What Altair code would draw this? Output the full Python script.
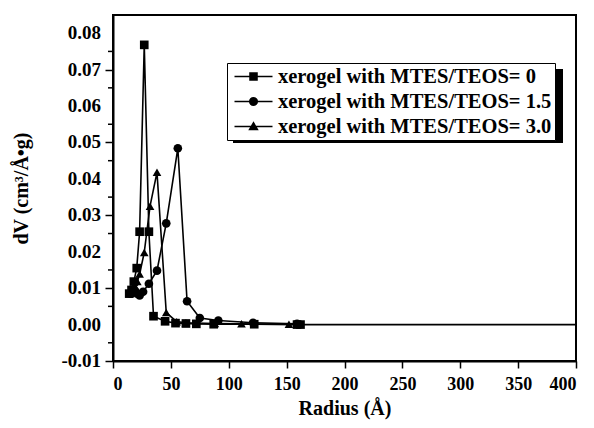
import altair as alt
import pandas as pd

labels = ["xerogel with MTES/TEOS= 0", "xerogel with MTES/TEOS= 1.5", "xerogel with MTES/TEOS= 3.0"]

s0_x = [14, 16, 18, 20.5, 23, 27, 31, 35, 45, 54, 63, 72, 87, 122, 159, 162]
s0_y = [0.0085, 0.0095, 0.0118, 0.0155, 0.0255, 0.0768, 0.0255, 0.0023, 0.0009, 0.0004, 0.0003, 0.0002, 0.0001, 0.0001, 0.0, 0.0]

s1_x = [15, 17, 19, 21, 23, 26, 31, 38, 46, 56, 64, 75, 91, 121, 159]
s1_y = [0.0085, 0.0088, 0.0092, 0.0085, 0.0080, 0.0090, 0.0112, 0.0148, 0.0278, 0.0484, 0.0064, 0.0018, 0.0011, 0.0005, 0.0002]

s2_x = [15, 17, 19, 21, 23, 27, 32, 38, 46, 55, 63, 88, 111, 152]
s2_y = [0.0085, 0.0090, 0.0105, 0.0118, 0.0139, 0.0198, 0.0325, 0.0418, 0.0033, 0.0008, 0.0005, 0.0003, 0.0002, 0.0001]

zero_x = [162, 400]
zero_y = [0.0, 0.0]

x_ticks = list(range(0, 401, 25))
y_major = [-0.01, 0.0, 0.01, 0.02, 0.03, 0.04, 0.05, 0.06, 0.07, 0.08]
y_labels = ["-0.01", "0.00", "0.01", "0.02", "0.03", "0.04", "0.05", "0.06", "0.07", "0.08"]
y_minor = [-0.005, 0.005, 0.015, 0.025, 0.035, 0.045, 0.055, 0.065, 0.075]

rows = []
for lab, xs, ys in zip(labels, [s0_x, s1_x, s2_x], [s0_y, s1_y, s2_y]):
    for xv, yv in zip(xs, ys):
        rows.append({"series": lab, "r": xv, "dv": yv})
df = pd.DataFrame(rows)
zdf = pd.DataFrame({"r": zero_x, "dv": zero_y})
mdf = pd.DataFrame({"dv": y_minor})
ldf = pd.DataFrame({"dv": y_major, "txt": y_labels})

FONT = "Liberation Serif"

xscale = alt.Scale(domain=[0, 400], nice=False)
yscale = alt.Scale(domain=[-0.01, 0.085], nice=False, zero=False)

xmajor = "datum.value % 50 == 0"

xaxis = alt.Axis(
    values=x_ticks,
    labelExpr=xmajor + " ? format(datum.value, 'd') : ''",
    tickSize={"condition": {"test": xmajor, "value": 7}, "value": 4},
    labelOverlap=False,
    labelPadding=7,
    title="Radius (Å)",
    titlePadding=5,
)
yaxis = alt.Axis(
    values=y_major,
    labels=False,
    tickSize=8,
    title="dV (cm³/Å•g)",
    titlePadding=73,
)

X = alt.X("r:Q", scale=xscale, axis=xaxis)
Y = alt.Y("dv:Q", scale=yscale, axis=yaxis)

lines = alt.Chart(df).mark_line(color="black", strokeWidth=1.6).encode(
    x=X, y=Y, detail="series:N", order="r:Q"
)

points = alt.Chart(df).mark_point(filled=True, color="black", opacity=1).encode(
    x="r:Q", y="dv:Q",
    shape=alt.Shape("series:N",
                    scale=alt.Scale(domain=labels, range=["square", "circle", "triangle-up"]),
                    legend=None),
    size=alt.value(75),
)

zero_line = alt.Chart(zdf).mark_line(color="black", strokeWidth=1.6).encode(x="r:Q", y="dv:Q")

minor_ticks = alt.Chart(mdf).mark_rule(color="black", strokeWidth=1.5, clip=False).encode(
    y="dv:Q", x=alt.value(0), x2=alt.value(-5)
)

y_text = alt.Chart(ldf).mark_text(
    align="right", baseline="middle", font=FONT, fontWeight="bold", fontSize=19,
    color="black", clip=False, dx=-12
).encode(y="dv:Q", x=alt.value(0), text="txt:N")

bar = "M-2,-0.085H2V0.085H-2Z"
leg_paths = [
    bar + "M-0.45,-0.45H0.45V0.45H-0.45Z",
    bar + "M0.48,0A0.48,0.48,0,1,1,-0.48,0A0.48,0.48,0,1,1,0.48,0Z",
    bar + "M0,-0.55L0.55,0.4H-0.55Z",
]

legend_layer = alt.Chart(df).mark_point(
    filled=True, color="black", opacity=1
).encode(
    x="r:Q", y="dv:Q",
    shape=alt.Shape("series2:N",
                    scale=alt.Scale(domain=labels, range=leg_paths),
                    legend=alt.Legend(title=None, orient="none", legendX=114, legendY=48,
                                      strokeColor="black", fillColor="white", padding=3,
                                      rowPadding=4, symbolOffset=13, labelOffset=14,
                                      symbolSize=361, labelFontSize=20.5, labelFont=FONT,
                                      labelFontWeight="bold", labelLimit=500,
                                      symbolFillColor="black", labelColor="black")),
).transform_calculate(series2="datum.series").transform_filter("datum.dv > 1")

shadow = alt.Chart(zdf).mark_rect(color="black").encode(
    x=alt.value(120), x2=alt.value(450), y=alt.value(54), y2=alt.value(128)
).transform_filter("datum.r > 300")

chart = alt.layer(shadow, zero_line, lines, points, minor_ticks, y_text, legend_layer).resolve_scale(
    shape="independent"
).properties(
    width=463, height=346,
    autosize=alt.AutoSizeParams(type="none"),
    padding={"left": 105, "top": 7, "right": 10, "bottom": 59},
).configure_view(
    stroke="black", strokeWidth=2
).configure_axis(
    grid=False, domainColor="black", domainWidth=2, tickColor="black", tickWidth=1.5,
    labelFont=FONT, labelFontWeight="bold", labelFontSize=18, labelColor="black",
    titleFont=FONT, titleFontWeight="bold", titleFontSize=20, titleColor="black",
    labelOverlap=False,
)

chart.save("out.html", embed_options={"renderer": "svg", "actions": False})
